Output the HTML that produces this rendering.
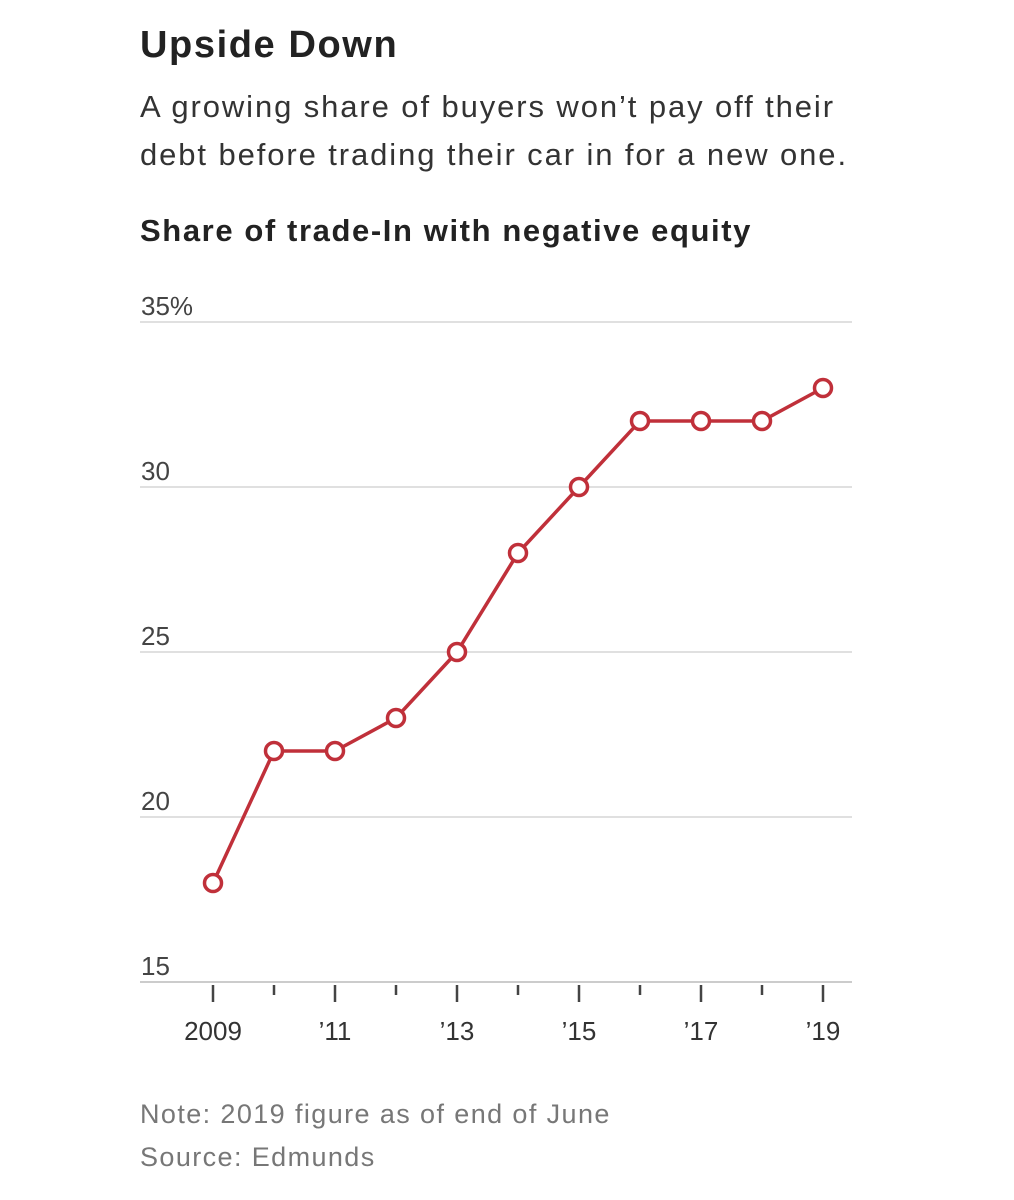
<!DOCTYPE html>
<html><head><meta charset="utf-8"><style>
body{margin:0;background:#fff;width:1014px;height:1200px;overflow:hidden;font-family:"Liberation Sans",sans-serif;}
.t{position:absolute;left:140px;white-space:nowrap;}
</style></head><body>
<div class="t" style="top:24px;font-size:38px;font-weight:bold;color:#222;letter-spacing:1.6px;">Upside Down</div>
<div class="t" style="top:83px;font-size:31px;line-height:48px;color:#333;letter-spacing:1.9px;">A growing share of buyers won’t pay off their<br>debt before trading their car in for a new one.</div>
<div class="t" style="top:213px;font-size:31px;font-weight:bold;color:#222;letter-spacing:1.6px;">Share of trade-In with negative equity</div>
<svg id="c" width="1014" height="1200" style="position:absolute;left:0;top:0"></svg>
<div class="t" style="top:1099px;font-size:27px;color:#777;letter-spacing:1.4px;">Note: 2019 figure as of end of June</div>
<div class="t" style="top:1142px;font-size:27px;color:#777;letter-spacing:1.4px;">Source: Edmunds</div>
<script>
const years=[2009,2010,2011,2012,2013,2014,2015,2016,2017,2018,2019];
const values=[18,22,22,23,25,28,30,32,32,32,33];
const yTicks=[15,20,25,30,35];
const yTickLabels=["15","20","25","30","35%"];
const xLabelYears=[2009,2011,2013,2015,2017,2019];
const xLabels=["2009","’11","’13","’15","’17","’19"];
const NS="http://www.w3.org/2000/svg",svg=document.getElementById('c');
const x=v=>213+(v-2009)*61, y=v=>982-(v-15)*33;
function mk(t,a){const e=document.createElementNS(NS,t);for(const k in a)e.setAttribute(k,a[k]);svg.appendChild(e);return e;}
yTicks.forEach((v,i)=>{
 const l=mk('line',{x1:140,x2:852,y1:y(v),y2:y(v),stroke:v===15?'#ccc':'#e0e0e0','stroke-width':2});
 
 
 const t=mk('text',{x:141,y:y(v)-7,'font-size':26,fill:'#444','font-family':'Liberation Sans, sans-serif'});
 t.textContent=yTickLabels[i];
 
 
});
years.forEach(yr=>{
 const major=xLabelYears.includes(yr);
 const l=mk('line',{x1:x(yr),x2:x(yr),y1:985,y2:major?1002:995,stroke:'#444','stroke-width':2.5});
 
 
});
xLabelYears.forEach((yr,i)=>{
 const t=mk('text',{x:x(yr),y:1040,'font-size':26,fill:'#333','text-anchor':'middle','font-family':'Liberation Sans, sans-serif'});
 t.textContent=xLabels[i];
 
 
});
const p=mk('polyline',{points:years.map((yr,i)=>x(yr)+','+y(values[i])).join(' '),fill:'none',stroke:'#c0303a','stroke-width':3.5});


years.forEach((yr,i)=>{
 const c=mk('circle',{cx:x(yr),cy:y(values[i]),r:8.5,fill:'#fff',stroke:'#c0303a','stroke-width':3.5});
 
 
});
</script>
</body></html>
